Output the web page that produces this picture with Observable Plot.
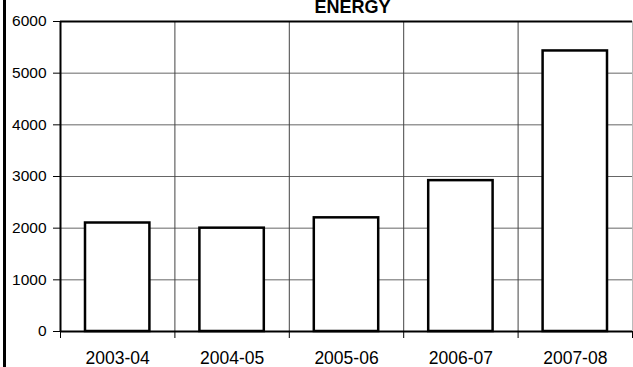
<!DOCTYPE html>
<html>
<head>
<meta charset="utf-8">
<script src="https://cdn.jsdelivr.net/npm/d3@7"></script>
<script src="https://cdn.jsdelivr.net/npm/@observablehq/plot@0.6"></script>
<style>
  html, body { margin: 0; padding: 0; background: #fff; }
  #wrap { position: relative; width: 633px; height: 367px; overflow: hidden; }
  #border { position: absolute; left: 3px; top: 0; width: 3px; height: 367px; background: #000; }
</style>
</head>
<body>
<div id="wrap"><div id="border"></div></div>
<script>
const title = "ENERGY";
const categories = ["2003-04", "2004-05", "2005-06", "2006-07", "2007-08"];
const values = [2100, 2000, 2200, 2920, 5430];
const yTicks = [0, 1000, 2000, 3000, 4000, 5000, 6000];

const data = categories.map((c, i) => ({i, category: c, value: values[i]}));
const boundaries = d3.range(categories.length + 1);
const centers = d3.range(categories.length).map(i => i + 0.5);

const chart = Plot.plot({
  width: 633,
  height: 367,
  marginLeft: 60,
  marginRight: 1,
  marginTop: 21,
  marginBottom: 36,
  style: {fontFamily: "'Liberation Sans', Arial, sans-serif", background: "transparent", overflow: "visible"},
  x: {type: "linear", domain: [0, categories.length], axis: null},
  y: {domain: [0, 6000], axis: null},
  marks: [
    Plot.ruleY(yTicks.slice(1, -1), {stroke: "#666", strokeWidth: 1}),
    Plot.ruleX(boundaries.slice(1, -1), {y1: 0, y2: 6000, stroke: "#444", strokeWidth: 1}),
    Plot.ruleX([categories.length], {y1: 0, y2: 6000, stroke: "#bbb", strokeWidth: 1}),
    Plot.rectY(data, {x1: d => d.i, x2: d => d.i + 1, y1: 0, y2: "value", insetLeft: 25, insetRight: 25, fill: "#fff", stroke: "#000", strokeWidth: 2.5}),
    Plot.axisY({ticks: yTicks, tickSize: 7, tickPadding: 7, fontSize: 15.5, label: null, tickFormat: d => String(d)}),
    Plot.axisX({ticks: boundaries, tickSize: 7, label: null, tickFormat: () => ""}),
    Plot.axisX({ticks: centers, tickSize: 0, tickPadding: 20, fontSize: 17.5, label: null, tickFormat: d => categories[Math.floor(d)]}),
    Plot.ruleY([0], {stroke: "#000", strokeWidth: 2}),
    Plot.ruleY([6000], {stroke: "#000", strokeWidth: 2}),
    Plot.ruleX([0], {y1: 0, y2: 6000, stroke: "#000", strokeWidth: 2}),
    Plot.text([title], {frameAnchor: "top", dx: 6, dy: -9, lineAnchor: "bottom", fontWeight: "bold", fontSize: 18, text: d => d})
  ]
});
document.getElementById("wrap").appendChild(chart);
chart.style.position = "absolute";
chart.style.left = "0";
chart.style.top = "0";
</script>
</body>
</html>
